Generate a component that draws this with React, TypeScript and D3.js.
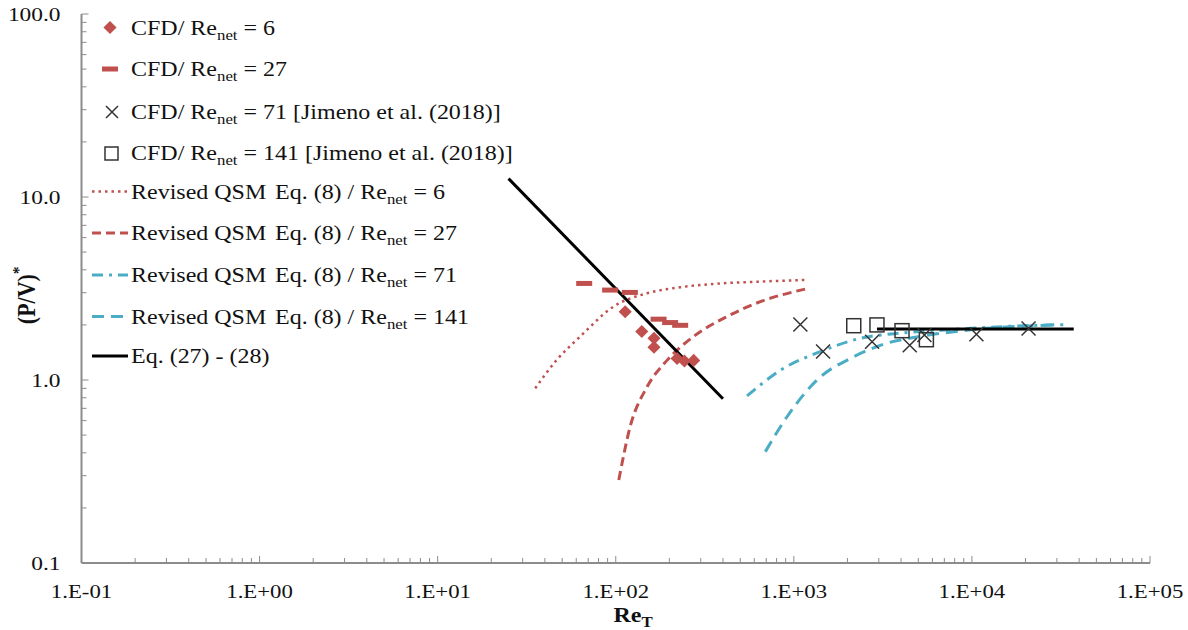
import { useRef, useEffect } from "react";
import * as d3 from "d3";

// CFD / Re_net = 6 (diamonds)
const cfd6X = [113, 140, 164, 164, 221, 243, 274];
const cfd6Y = [2.36, 1.84, 1.69, 1.51, 1.31, 1.27, 1.28];

// CFD / Re_net = 27 (short dashes)
const cfd27X = [66.5, 93, 120, 174, 202, 230];
const cfd27Y = [3.37, 3.10, 3.01, 2.15, 2.06, 1.99];

// CFD / Re_net = 71 (crosses)
const cfd71X = [1088, 1459, 2750, 4475, 5410, 10600, 20800];
const cfd71Y = [2.01, 1.43, 1.62, 1.55, 1.76, 1.78, 1.91];

// CFD / Re_net = 141 (squares)
const cfd141X = [2170, 2930, 4050, 5550];
const cfd141Y = [1.98, 2.0, 1.86, 1.66];

// Revised QSM Eq. (8)
const qsm6X = [35.3, 46.7, 63.2, 97.2, 150, 229, 354, 649, 1160];
const qsm6Y = [0.9, 1.29, 1.73, 2.52, 2.98, 3.21, 3.35, 3.45, 3.52];
const qsm27X = [104, 120.5, 150, 194, 274, 421, 649, 1160];
const qsm27Y = [0.284, 0.556, 0.918, 1.28, 1.73, 2.22, 2.68, 3.14];
const qsm71X = [546, 840, 1409, 2365, 4140, 7900, 17200, 35000];
const qsm71Y = [0.818, 1.13, 1.43, 1.69, 1.81, 1.89, 1.97, 2.01];
const qsm141X = [692, 916, 1350, 2170, 3340, 5140, 9820, 28800];
const qsm141Y = [0.406, 0.63, 1.0, 1.34, 1.59, 1.73, 1.88, 2.0];

// Eq. (27) - (28)
const eqLowX = [25, 400];
const eqLowY = [12.6, 0.79];
const eqHighX = [2930, 37300];
const eqHighY = [1.9, 1.9];

const xTicks = [0.1, 1, 10, 100, 1000, 10000, 100000];
const xTickLabels = ["1.E-01", "1.E+00", "1.E+01", "1.E+02", "1.E+03", "1.E+04", "1.E+05"];
const yTicks = [0.1, 1, 10, 100];
const yTickLabels = ["0.1", "1.0", "10.0", "100.0"];

const RED = "#c0504d";
const CYAN = "#4bacc6";
const AXIS = "#8c8c8c";
const FONT = "'Liberation Serif', 'Times New Roman', serif";
const SX = 1.2; // text in the original is stretched horizontally

const zip = (xs: number[], ys: number[]) => xs.map((x, i) => [x, ys[i]] as [number, number]);

export default function App() {
  const ref = useRef<SVGSVGElement>(null);
  const width = 1188;
  const height = 630;
  const marginLeft = 81.5;
  const marginRight = 38;
  const marginTop = 14;
  const marginBottom = 67;

  useEffect(() => {
    const svg = d3.select(ref.current);
    svg.selectAll("*").remove();

    const x = d3.scaleLog().domain([0.1, 100000]).range([marginLeft, width - marginRight]);
    const y = d3.scaleLog().domain([0.1, 100]).range([height - marginBottom, marginTop]);
    const y0 = height - marginBottom;

    const txt = (g: any, xp: number, yp: number, size: number, anchor = "start") =>
      g.append("text").attr("transform", `translate(${xp},${yp}) scale(${SX},1)`)
        .attr("text-anchor", anchor).attr("font-family", FONT).attr("font-size", size).attr("fill", "#111");

    // axes
    const ax = svg.append("g");
    ax.append("line").attr("x1", marginLeft).attr("x2", width - marginRight)
      .attr("y1", y0).attr("y2", y0).attr("stroke", AXIS).attr("stroke-width", 2);
    ax.append("line").attr("x1", marginLeft).attr("x2", marginLeft)
      .attr("y1", y0).attr("y2", marginTop).attr("stroke", AXIS).attr("stroke-width", 2);

    const xMinor: number[] = [];
    for (let e = -1; e < 5; e++) for (let m = 2; m <= 10; m++) xMinor.push(m * Math.pow(10, e));
    ax.selectAll(".xt").data(xMinor).join("line")
      .attr("x1", (d) => x(d)).attr("x2", (d) => x(d))
      .attr("y1", y0).attr("y2", (d, i) => y0 - ((i % 9) === 8 ? 7 : 5))
      .attr("stroke", AXIS).attr("stroke-width", 1);

    const yMinor: number[] = [];
    for (let e = -1; e < 2; e++) for (let m = 2; m <= 10; m++) yMinor.push(m * Math.pow(10, e));
    ax.selectAll(".yt").data(yMinor).join("line")
      .attr("y1", (d) => y(d)).attr("y2", (d) => y(d))
      .attr("x1", marginLeft).attr("x2", (d, i) => marginLeft + ((i % 9) === 8 ? 7 : 5))
      .attr("stroke", AXIS).attr("stroke-width", 1);

    xTicks.forEach((d, i) => txt(ax, x(d), y0 + 35, 19, "middle").text(xTickLabels[i]));
    yTicks.forEach((d, i) => txt(ax, marginLeft - 21, y(d) + 7, 19.5, "end").text(yTickLabels[i]));

    // axis titles
    const xt = txt(svg, 633, 622, 20, "middle").attr("font-weight", "bold");
    xt.append("tspan").text("Re");
    xt.append("tspan").attr("font-size", 14).attr("dy", 5).text("T");

    const yt = svg.append("text").attr("transform", `translate(35,${y(2.9)}) scale(1.1,1) rotate(-90)`)
      .attr("text-anchor", "middle").attr("font-family", FONT).attr("font-size", 22)
      .attr("font-weight", "bold").attr("fill", "#111");
    yt.append("tspan").text("(P/V)");
    yt.append("tspan").attr("font-size", 15).attr("dy", -10).text("*");

    const line = d3.line<[number, number]>().x((d) => x(d[0])).y((d) => y(d[1])).curve(d3.curveMonotoneX);
    const straight = d3.line<[number, number]>().x((d) => x(d[0])).y((d) => y(d[1]));

    const plot = svg.append("g");
    const curves = [
      { data: zip(qsm6X, qsm6Y), color: RED, dash: "2.5,4", w: 2.5 },
      { data: zip(qsm27X, qsm27Y), color: RED, dash: "9,5", w: 3 },
      { data: zip(qsm71X, qsm71Y), color: CYAN, dash: "11,6,3,6", w: 3 },
      { data: zip(qsm141X, qsm141Y), color: CYAN, dash: "12,7", w: 3 },
    ];
    curves.forEach((c) => {
      plot.append("path").attr("d", line(c.data)).attr("fill", "none")
        .attr("stroke", c.color).attr("stroke-width", c.w).attr("stroke-dasharray", c.dash);
    });

    [zip(eqLowX, eqLowY), zip(eqHighX, eqHighY)].forEach((d) => {
      plot.append("path").attr("d", straight(d)).attr("fill", "none")
        .attr("stroke", "#000").attr("stroke-width", 3);
    });

    // markers
    plot.selectAll(".cfd27").data(zip(cfd27X, cfd27Y)).join("rect")
      .attr("x", (d) => x(d[0]) - 8).attr("y", (d) => y(d[1]) - 2.5)
      .attr("width", 16).attr("height", 5).attr("fill", RED);

    plot.selectAll(".cfd6").data(zip(cfd6X, cfd6Y)).join("path")
      .attr("d", d3.symbol().type(d3.symbolDiamond2).size(110)())
      .attr("transform", (d) => `translate(${x(d[0])},${y(d[1])})`).attr("fill", RED);

    plot.selectAll(".cfd71").data(zip(cfd71X, cfd71Y)).join("path")
      .attr("d", "M-7,-7L7,7M-7,7L7,-7")
      .attr("transform", (d) => `translate(${x(d[0])},${y(d[1])})`)
      .attr("stroke", "#333").attr("stroke-width", 1.5).attr("fill", "none");

    plot.selectAll(".cfd141").data(zip(cfd141X, cfd141Y)).join("rect")
      .attr("x", (d) => x(d[0]) - 7).attr("y", (d) => y(d[1]) - 7)
      .attr("width", 14).attr("height", 14)
      .attr("stroke", "#333").attr("stroke-width", 1.5).attr("fill", "none");

    // legend
    const lg = svg.append("g");
    const rows = [27.5, 69, 112, 153, 191.5, 233, 275, 316.5, 356];
    const addText = (xp: number, yp: number, pre: string, post: string) => {
      const t = txt(lg, xp, yp + 7, 20);
      t.append("tspan").text(pre + "Re");
      t.append("tspan").attr("font-size", 14).attr("dy", 5).text("net");
      t.append("tspan").attr("dy", -5).text(post);
    };
    lg.append("path").attr("d", d3.symbol().type(d3.symbolDiamond2).size(110)())
      .attr("transform", `translate(110,${rows[0]})`).attr("fill", RED);
    addText(131, rows[0], "CFD/ ", " = 6");
    lg.append("rect").attr("x", 102).attr("y", rows[1] - 2.5).attr("width", 16).attr("height", 5).attr("fill", RED);
    addText(131, rows[1], "CFD/ ", " = 27");
    lg.append("path").attr("d", "M-6,-6L6,6M-6,6L6,-6").attr("transform", `translate(112,${rows[2]})`)
      .attr("stroke", "#333").attr("stroke-width", 1.5);
    addText(131, rows[2], "CFD/ ", " = 71 [Jimeno et al. (2018)]");
    lg.append("rect").attr("x", 105).attr("y", rows[3] - 6).attr("width", 13).attr("height", 13)
      .attr("stroke", "#333").attr("stroke-width", 1.5).attr("fill", "none");
    addText(131, rows[3], "CFD/ ", " = 141 [Jimeno et al. (2018)]");
    const nets = ["6", "27", "71", "141"];
    curves.forEach((c, i) => {
      const yp = rows[4 + i];
      lg.append("line").attr("x1", 92).attr("x2", 128).attr("y1", yp).attr("y2", yp)
        .attr("stroke", c.color).attr("stroke-width", c.w).attr("stroke-dasharray", c.dash);
      txt(lg, 131, yp + 7, 20).text("Revised QSM");
      addText(275, yp, "Eq. (8) / ", " = " + nets[i]);
    });
    lg.append("line").attr("x1", 92).attr("x2", 128).attr("y1", rows[8]).attr("y2", rows[8])
      .attr("stroke", "#000").attr("stroke-width", 3);
    txt(lg, 131, rows[8] + 7, 20).text("Eq. (27) - (28)");
  }, []);

  return (
    <svg ref={ref} width={width} height={height}
      style={{ position: "absolute", left: 0, top: 0, backgroundColor: "white" }} />
  );
}
